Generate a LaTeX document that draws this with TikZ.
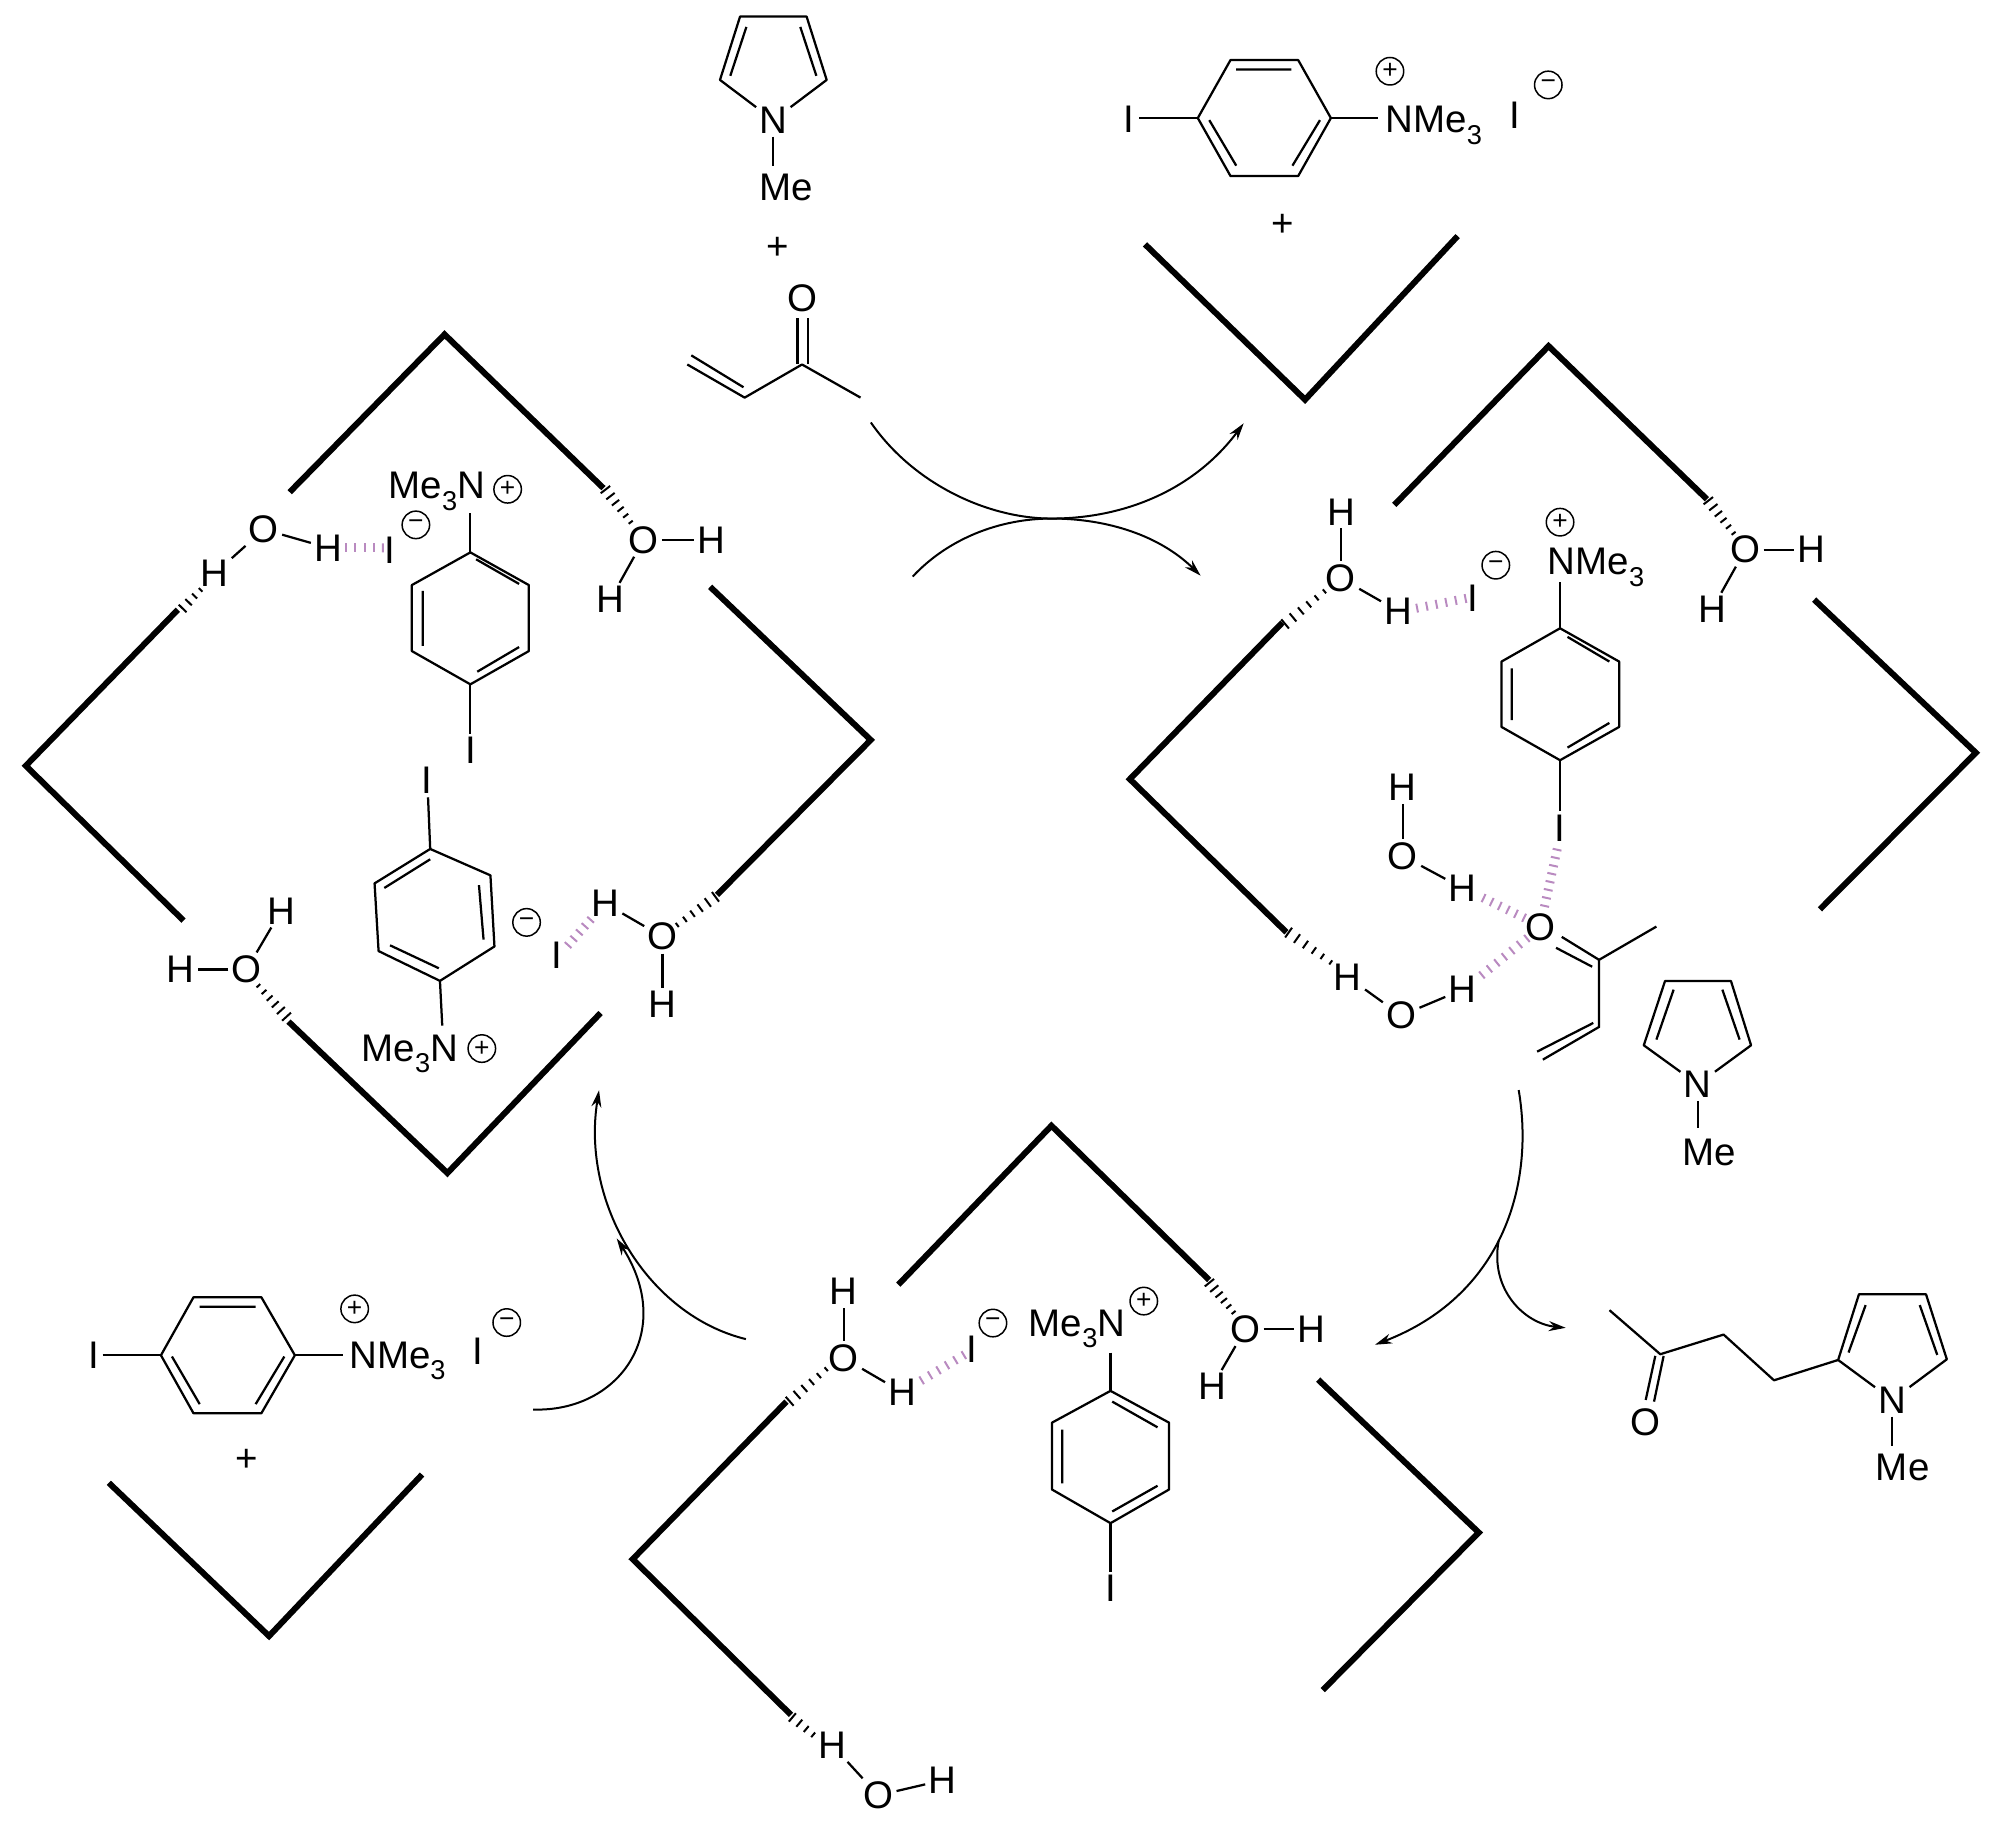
\documentclass[tikz,border=0pt]{standalone}
\usepackage{fontspec}
\setmainfont{Liberation Sans}
\usetikzlibrary{calc,arrows.meta}
\definecolor{hbpink}{HTML}{B98AC0}
\tikzset{
 atom/.style={inner sep=0.06cm,font=\fontsize{21.9}{24}\selectfont},
 lbl/.style={inner sep=0pt,anchor=base west,font=\fontsize{21.9}{24}\selectfont},
 plusst/.style={inner sep=0pt,font=\fontsize{21.9}{24}\selectfont},
 chgst/.style={circle,draw,line width=0.03cm,inner sep=0pt,minimum size=0.55cm,font=\fontsize{15}{16}\selectfont},
 bond/.style={line width=0.045cm},
 thickv/.style={line width=0.12cm,miter limit=10},
 curly/.style={line width=0.04cm,-{Stealth[length=0.34cm,width=0.2cm]}},
 hashtick/.style={line width=0.04cm},
 zA/.style={shift={(0,300)},x=0.011481cm,y=-0.011481cm},
 zB/.style={shift={(1100,330)},x=0.011481cm,y=-0.011481cm},
 zC/.style={shift={(600,1100)},x=0.011481cm,y=-0.00935cm},
 zD/.style={shift={(650,0)},x=0.011481cm,y=-0.008292cm},
 zE/.style={shift={(50,1050)},x=0.00957cm,y=-0.008292cm},
 zF/.style={shift={(1350,1046)},x=0.00833cm,y=-0.00678cm},
}
\newcommand\sbt{\raisebox{-.3em}{\fontsize{15.5}{16}\selectfont 3}}
\newcommand\lab[3]{\node[atom] (#1) at (#2) {#3};}
\newcommand\labb[3]{\node[lbl] (#1) at (#2) {#3};}
\newcommand\chg[3]{\node[chgst] (#1) at (#2) {#3};}
\newcommand\bd[2]{\draw[bond] (#1) -- (#2);}
% hashb[n]{colour}{start}{end}{width at start}{width at end} (widths in px)
\newcommand\hashb[6][5]{%
 \foreach \i in {0,...,#1}{%
  \pgfmathsetmacro\hT{0.01+0.98*\i/#1}%
  \pgfmathsetmacro\hW{(#5+(#6-#5)*\hT)*0.5*0.02}%
  \draw[hashtick,#2] ($#3!\hT!#4!\hW cm!90:#4$) -- ($#3!\hT!#4!\hW cm!-90:#4$);
 }}
\begin{document}
\begin{tikzpicture}[x=0.02cm,y=-0.02cm]
\useasboundingbox (0,0) rectangle (2000,1833);

%% ---------- left catalyst complex ----------
\begin{scope}[zA]
\draw[thickv] (505,335)--(775,60)--(1052,328);
\draw[thickv] (1238,500)--(1518,767)--(1250,1037);
\draw[thickv] (310,540)--(45,812)--(320,1082);
\draw[thickv] (503,1258)--(780,1522)--(1047,1243);
\lab{aO1}{460,400}{O}\lab{aH1}{572,432}{H}\lab{aH2}{374,477}{H}
\bd{aO1}{aH1}\bd{aO1}{aH2}
\lab{aI1}{680,437}{I}
\hashb[4]{hbpink}{(603,432)}{(668,432)}{9}{9}
\hashb[3]{black}{(318,538)}{(350,505)}{11}{5}
\chg{aM1}{725,392}{−}
\labb{aN1}{677,346}{Me\sbt N}\chg{aP1}{885,330}{+}
\coordinate (aR1) at (820,440);\coordinate (aR4) at (820,670);\coordinate (aN1b) at (820,372);
\draw[bond,line join=round] (aR1)--(922,497)--(922,612)--(aR4)--(718,612)--(718,497)--cycle;
\draw[bond] (830,452)--(905,495) (905,605)--(832,648) (737,507)--(737,603);
\bd{aN1b}{aR1}
\lab{aI2}{820,785}{I}\bd{aR4}{aI2}
\lab{aO2}{1122,418}{O}\lab{aH3}{1240,418}{H}\lab{aH4}{1064,522}{H}
\bd{aO2}{aH3}\bd{aO2}{aH4}
\hashb{black}{(1055,330)}{(1100,388)}{12}{5}
\lab{aI3}{745,838}{I}
\coordinate (aR5) at (750,957);\coordinate (aR6) at (767,1187);\coordinate (aN2b) at (771,1265);
\draw[bond,line join=round] (aR5)--(855,1003)--(862,1127)--(aR6)--(660,1135)--(653,1017)--cycle;
\draw[bond] (835,1020)--(843,1115) (670,1025)--(750,975) (680,1125)--(765,1165);
\bd{aI3}{aR5}\bd{aR6}{aN2b}
\labb{aN2}{630,1327}{Me\sbt N}\chg{aP2}{840,1305}{+}
\chg{aM2}{918,1085}{−}\lab{aI4}{970,1143}{I}
\hashb[4]{hbpink}{(990,1125)}{(1030,1080)}{9}{9}
\lab{aH5}{1055,1052}{H}\lab{aO3}{1155,1110}{O}\lab{aH6}{1155,1228}{H}
\bd{aH5}{aO3}\bd{aO3}{aH6}
\hashb{black}{(1180,1090)}{(1248,1040)}{5}{12}
\lab{aH7}{490,1065}{H}\lab{aO4}{430,1167}{O}\lab{aH8}{315,1167}{H}
\bd{aH7}{aO4}\bd{aO4}{aH8}
\hashb{black}{(450,1195)}{(500,1250)}{5}{12}
\end{scope}

%% ---------- right complex ----------
\begin{scope}[zB]
\draw[thickv] (513,305)--(782,28)--(1058,295);
\draw[thickv] (1245,470)--(1527,737)--(1255,1010);
\draw[thickv] (318,510)--(52,783)--(325,1050);
\lab{bH1}{420,317}{H}\lab{bO1}{420,433}{O}\lab{bH2}{520,490}{H}
\bd{bH1}{bO1}\bd{bO1}{bH2}
\lab{bI1}{650,468}{I}\chg{bM1}{690,410}{−}
\hashb[5]{hbpink}{(552,485)}{(638,468)}{9}{9}
\hashb{black}{(322,513)}{(392,455)}{12}{5}
\chg{bP1}{802,335}{+}\labb{bN1}{780,427}{NMe\sbt}
\coordinate (bR1) at (802,520);\coordinate (bR4) at (802,750);\coordinate (bN1b) at (802,440);
\draw[bond,line join=round] (bR1)--(905,578)--(905,692)--(bR4)--(700,692)--(700,578)--cycle;
\draw[bond] (815,535)--(888,578) (888,685)--(815,728) (718,590)--(718,680);
\bd{bN1b}{bR1}
\lab{bI2}{802,868}{I}\bd{bR4}{bI2}
\hashb{black}{(1060,297)}{(1105,355)}{12}{5}
\lab{bO2}{1125,383}{O}\lab{bH3}{1240,383}{H}\lab{bH4}{1067,487}{H}
\bd{bO2}{bH3}\bd{bO2}{bH4}
\lab{bH5}{528,797}{H}\lab{bO3}{528,917}{O}\lab{bH6}{632,973}{H}
\bd{bH5}{bO3}\bd{bO3}{bH6}
\hashb[5]{hbpink}{(668,990)}{(740,1025)}{9}{9}
\hashb[7]{hbpink}{(797,905)}{(775,1005)}{9}{9}
\lab{bO4}{768,1042}{O}
\hashb[6]{hbpink}{(665,1125)}{(745,1060)}{9}{9}
\lab{bH7}{632,1150}{H}\lab{bO5}{525,1195}{O}\lab{bH8}{432,1128}{H}
\bd{bH7}{bO5}\bd{bO5}{bH8}
\hashb{black}{(328,1050)}{(403,1103)}{12}{5}
\draw[bond] (805,1058)--(870,1098) (795,1077)--(858,1110);
\draw[bond] (970,1040)--(870,1098)--(870,1215)--(772,1272) (860,1208)--(762,1258);
\lab{bN2}{1042,1315}{N}
\draw[bond,line join=round] (bN2)--(948,1247)--(985,1135)--(1100,1135)--(1135,1247)--(bN2);
\draw[bond] (1000,1150)--(970,1237) (1085,1150)--(1115,1237);
\labb{bMe}{1015,1457}{Me}
\coordinate (bMeb) at (1042,1392);\bd{bN2}{bMeb}
\end{scope}

%% ---------- bottom complex ----------
\begin{scope}[zC]
\draw[thickv] (520,395)--(787,55)--(1062,385);
\draw[thickv] (1252,598)--(1532,925)--(1260,1262);
\draw[thickv] (325,645)--(57,982)--(333,1315);
\lab{cH1}{425,410}{H}\lab{cO1}{425,552}{O}\lab{cH2}{527,625}{H}
\bd{cH1}{cO1}\bd{cO1}{cH2}
\hashb[5]{hbpink}{(560,600)}{(635,545)}{9}{9}
\lab{cI1}{648,532}{I}\chg{cM1}{685,477}{−}
\hashb{black}{(330,645)}{(395,575)}{12}{5}
\labb{cN1}{747,505}{Me\sbt N}\chg{cP1}{948,430}{+}
\coordinate (cR1) at (890,622);\coordinate (cR4) at (890,905);\coordinate (cN1b) at (890,540);
\draw[bond,line join=round] (cR1)--(992,690)--(992,833)--(cR4)--(788,833)--(788,690)--cycle;
\draw[bond] (893,645)--(972,700) (972,825)--(893,880) (806,705)--(806,820);
\bd{cN1b}{cR1}
\lab{cI2}{890,1045}{I}\bd{cR4}{cI2}
\hashb{black}{(1062,390)}{(1105,455)}{12}{5}
\lab{cO2}{1125,490}{O}\lab{cH3}{1240,490}{H}\lab{cH4}{1067,613}{H}
\bd{cO2}{cH3}\bd{cO2}{cH4}
\hashb[3]{black}{(335,1320)}{(372,1358)}{11}{6}
\lab{cH5}{405,1380}{H}\lab{cO3}{485,1487}{O}\lab{cH6}{597,1455}{H}
\bd{cH5}{cO3}\bd{cO3}{cH6}
\end{scope}

%% ---------- top reagents and arrows ----------
\begin{scope}[zD]
\lab{dN1}{215,290}{N}
\draw[bond,line join=round] (dN1)--(122,193)--(157,40)--(273,40)--(308,193)--(dN1);
\draw[bond] (168,65)--(140,183) (262,65)--(290,183);
\coordinate (dMeb) at (215,400);\bd{dN1}{dMeb}
\labb{dMe}{190,484}{Me}
\node[plusst] (dPlus1) at (222,600) {+};
\lab{dO1}{265,720}{O}
\draw[bond] (257,768)--(257,880) (275,768)--(275,880);
\draw[bond,line join=round] (65,880)--(165,960)--(265,880)--(367,960) (72,858)--(163,935);
\coordinate (a1s) at (385,1020);\coordinate (a1e) at (1035,1022);
\coordinate (a2s) at (458,1392);\coordinate (a2e) at (960,1390);
\draw[curly] (a1s) .. controls (460,1170) and (590,1252) .. (700,1252) .. controls (830,1252) and (950,1180) .. (a1e);
\draw[curly] (a2s) .. controls (520,1300) and (610,1252) .. (700,1252) .. controls (800,1252) and (890,1295) .. (a2e);
\lab{dI1}{835,288}{I}
\coordinate (dR1) at (955,285);\coordinate (dR4) at (1187,285);\coordinate (dNb) at (1270,285);
\draw[bond,line join=round] (dR1)--(1012,145)--(1130,145)--(dR4)--(1130,425)--(1012,425)--cycle;
\draw[bond] (1022,168)--(1118,168) (975,290)--(1022,400) (1168,290)--(1120,400);
\draw[bond] (853,285)--(dR1);\bd{dR4}{dNb}
\labb{dN2}{1282,320}{NMe\sbt}\chg{dP1}{1290,172}{+}
\lab{dI2}{1507,278}{I}\chg{dM1}{1566,205}{−}
\node[plusst] (dPlus2) at (1103,545) {+};
\draw[thickv] (863,590)--(1142,965)--(1408,570);
\end{scope}

%% ---------- lower left reagents ----------
\begin{scope}[zE]
\lab{eI1}{92,737}{I}
\coordinate (eR1) at (232,737);\coordinate (eR4) at (512,737);\coordinate (eNb) at (612,737);
\draw[bond,line join=round] (eR1)--(300,597)--(442,597)--(eR4)--(442,877)--(300,877)--cycle;
\draw[bond] (313,620)--(430,620) (255,740)--(313,855) (490,740)--(430,855);
\bd{eI1}{eR1}\bd{eR4}{eNb}
\labb{eN1}{625,768}{NMe\sbt}\chg{eP1}{637,625}{+}
\lab{eI2}{895,727}{I}\chg{eM1}{955,658}{−}
\node[plusst] (ePlus) at (412,992) {+};
\draw[thickv] (123,1045)--(458,1415)--(778,1025);
\coordinate (a3s) at (1455,698);\coordinate (a3e) at (1148,97);
\coordinate (a4s) at (1010,868);\coordinate (a4e) at (1185,455);
\draw[curly] (a3s) .. controls (1250,640) and (1110,370) .. (a3e);
\draw[curly] (a4s) .. controls (1190,875) and (1310,680) .. (a4e);
\end{scope}

%% ---------- product and right arrows ----------
\begin{scope}[zF]
\coordinate (a5s) at (405,130);\coordinate (a5e) at (60,882);
\coordinate (a6s) at (357,575);\coordinate (a6e) at (518,832);
\draw[curly] (a5s) .. controls (445,420) and (360,740) .. (a5e);
\draw[curly] (a6s) .. controls (335,720) and (420,820) .. (a6e);
\draw[bond,line join=round] (623,780)--(745,910)--(897,852)--(1018,987)--(1172,927);
\draw[bond] (733,915)--(710,1045) (753,915)--(730,1050);
\lab{fO}{710,1112}{O}
\lab{fN}{1302,1045}{N}
\draw[bond,line join=round] (fN)--(1172,927)--(1222,733)--(1383,733)--(1433,925)--(fN);
\draw[bond] (1197,905)--(1238,765) (1368,765)--(1410,912);
\coordinate (fMeb) at (1302,1180);\bd{fN}{fMeb}
\labb{fMe}{1262,1283}{Me}
\end{scope}
\end{tikzpicture}
\end{document}
